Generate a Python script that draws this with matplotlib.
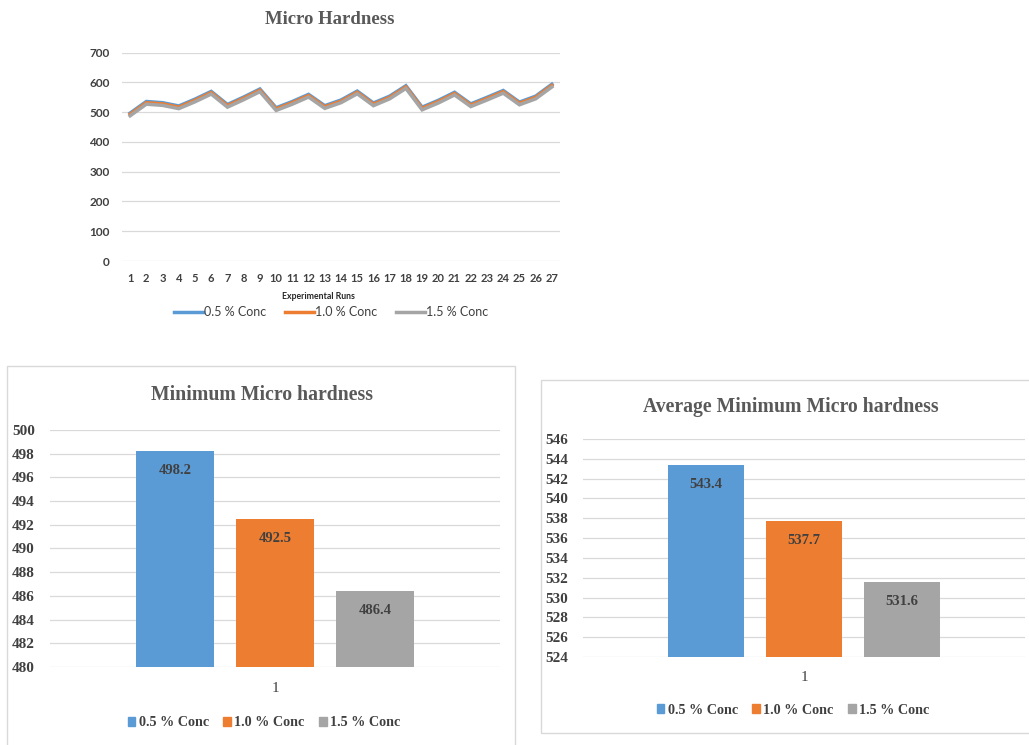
import matplotlib
matplotlib.use('Agg')
import matplotlib.pyplot as plt
from matplotlib.patches import Rectangle
from matplotlib.lines import Line2D
import numpy as np

# hardness readings for the 27 experimental runs
runs = list(range(1, 28))
conc_05 = [497, 536, 532, 521, 544, 570, 526, 551, 578, 515, 536, 560, 522, 541,
           571, 531, 554, 589, 517, 540, 567, 528, 550, 573, 534, 554, 594]
conc_10 = [493, 532, 528, 517, 540, 566, 522, 547, 574, 511, 532, 556, 518, 537,
           567, 527, 550, 585, 513, 536, 563, 524, 546, 569, 530, 550, 590]
conc_15 = [488, 527, 523, 512, 535, 561, 517, 542, 569, 506, 527, 551, 513, 532,
           562, 522, 545, 580, 508, 531, 558, 519, 541, 564, 525, 545, 585]

series_names = ['0.5 % Conc', '1.0 % Conc', '1.5 % Conc']
min_hardness = [498.2, 492.5, 486.4]
avg_min_hardness = [543.4, 537.7, 531.6]
category = ['1']

colors = ['#5B9BD5', '#ED7D31', '#A5A5A5']
grid_c = '#D9D9D9'
text_c = '#404040'
title_c = '#595959'
SERIF = 'Liberation Serif'
SANS = 'Lato'

W, H = 1029, 745


def rect(l, t, r, b):
    # pixel box (left, top, right, bottom) -> figure fraction rect
    return [l / W, 1 - b / H, (r - l) / W, (b - t) / H]


def fx(x):
    return x / W


def fy(y):
    return 1 - y / H


fig = plt.figure(figsize=(W / 100, H / 100), dpi=100)

# ---- line chart of all runs ----
ax = fig.add_axes(rect(122, 52.7, 560, 261))
for vals, c in zip([conc_05, conc_10, conc_15], colors):
    ax.plot(runs, vals, color=c, lw=2.5, solid_joinstyle='miter')
ax.set_xlim(0.5, 27.5)
ax.set_ylim(0, 700)
ax.set_yticks(np.arange(0, 701, 100))
ax.set_xticks(runs)
ax.grid(axis='y', color=grid_c, lw=0.9)
ax.set_axisbelow(True)
for s in ax.spines.values():
    s.set_visible(False)
ax.tick_params(length=0, labelcolor=text_c)
ax.tick_params(axis='x', pad=9, labelsize=8)
ax.tick_params(axis='y', pad=9, labelsize=8.5)
for lab in ax.get_xticklabels() + ax.get_yticklabels():
    lab.set_family(SANS)
    lab.set_fontweight('bold')
fig.text(fx(330), fy(20), 'Micro Hardness', ha='center', va='center',
         family=SERIF, weight='bold', fontsize=13.5, color=title_c)
fig.text(fx(318), fy(296.5), 'Experimental Runs', ha='center', va='center',
         family=SANS, weight='bold', fontsize=6.3, color='#262626')
line_handles = [Line2D([], [], color=c, lw=2.5) for c in colors]
fig.legend(line_handles, series_names, loc='center', bbox_to_anchor=(fx(331), fy(312.5)),
           ncol=3, frameon=False, handlelength=2.3, handletextpad=0.1, columnspacing=1.5,
           prop={'family': SANS, 'size': 9}, labelcolor=text_c)


def bar_panel(box, plot_box, values, ylim, title, title_x, title_y, cat_y, leg_y):
    l, t, r, b = box
    fig.patches.append(Rectangle((fx(l), fy(b)), (r - l) / W, (b - t) / H,
                                 transform=fig.transFigure, fill=False,
                                 edgecolor=grid_c, lw=1.0))
    a = fig.add_axes(rect(*plot_box))
    width = 0.173
    step = 0.222
    offsets = (np.arange(len(values)) - (len(values) - 1) / 2) * step
    for i, (v, c) in enumerate(zip(values, colors)):
        a.bar(1 + offsets[i], v - ylim[0], width=width, bottom=ylim[0], color=c, zorder=3)
        a.annotate(f'{v}', (1 + offsets[i], v), xytext=(0, -14), textcoords='offset points',
                   ha='center', va='center', family=SERIF, weight='bold',
                   fontsize=10.5, color=text_c, zorder=4)
    a.set_xlim(0.5, 1.5)
    a.set_ylim(*ylim)
    a.set_yticks(np.arange(ylim[0], ylim[1] + 1, 2))
    a.set_xticks([1])
    a.set_xticklabels(category)
    a.grid(axis='y', color=grid_c, lw=0.9, zorder=0)
    for s in a.spines.values():
        s.set_visible(False)
    a.tick_params(length=0, labelcolor=text_c)
    a.tick_params(axis='y', pad=11)
    a.tick_params(axis='x', pad=cat_y - plot_box[3] - 10)
    for lab in a.get_yticklabels():
        lab.set_family(SERIF)
        lab.set_fontweight('bold')
        lab.set_fontsize(11)
    for lab in a.get_xticklabels():
        lab.set_family(SERIF)
        lab.set_fontsize(11)
    fig.text(fx(title_x), fy(title_y), title, ha='center', va='center',
             family=SERIF, weight='bold', fontsize=14.2, color=title_c)
    cx = (plot_box[0] + plot_box[2]) / 2
    handles = [Rectangle((0, 0), 1, 1, color=c) for c in colors]
    fig.legend(handles, series_names, loc='center', bbox_to_anchor=(fx(cx - 11), fy(leg_y)),
               ncol=3, frameon=False, handlelength=0.55, handleheight=0.55,
               handletextpad=0.25, columnspacing=1.0,
               prop={'family': SERIF, 'weight': 'bold', 'size': 10.2}, labelcolor=text_c)


bar_panel((7, 366, 515, 746), (50, 430, 500, 667), min_hardness, (480, 500),
          'Minimum Micro hardness', 262, 395, 688, 723)
bar_panel((541, 380, 1040, 733), (583, 439, 1025, 657), avg_min_hardness, (524, 546),
          'Average Minimum Micro hardness', 791, 407, 677, 710)

fig.savefig('out.png', dpi=100)
